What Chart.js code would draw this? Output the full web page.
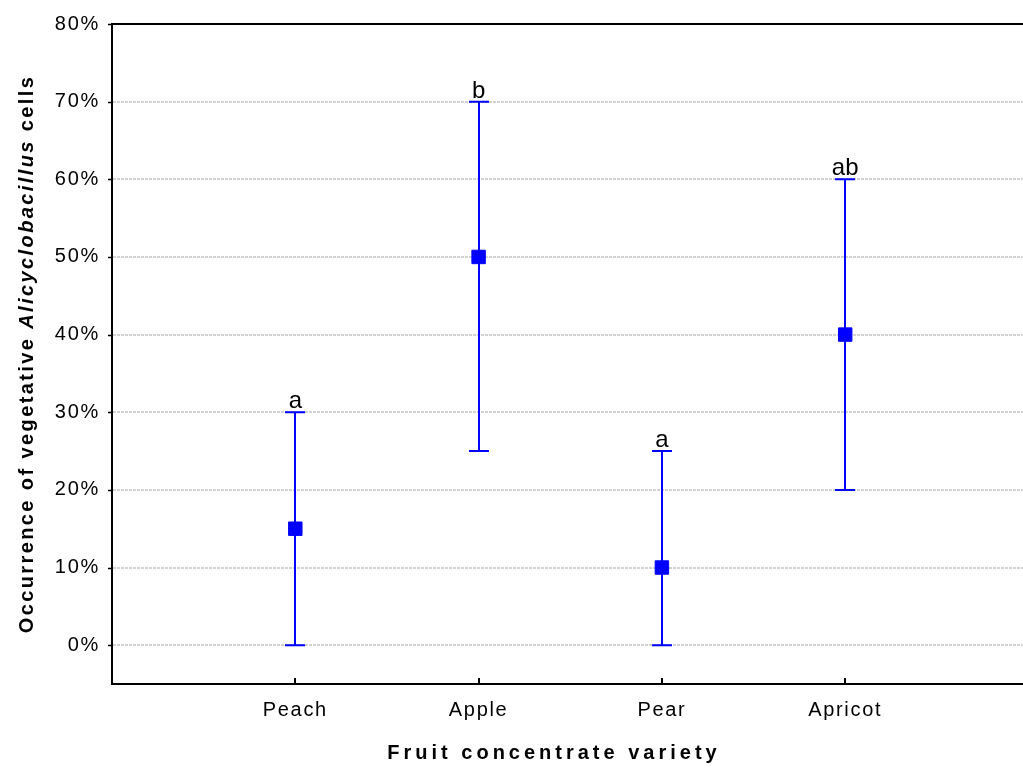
<!DOCTYPE html>
<html>
<head>
<meta charset="utf-8">
<script src="https://cdn.jsdelivr.net/npm/chart.js@4.4.1/dist/chart.umd.min.js"></script>
<style>
html,body{margin:0;padding:0;background:#fff;}
canvas{display:block;}
</style>
</head>
<body>
<canvas id="c" width="1023" height="771"></canvas>
<script>
const categories = ['Peach', 'Apple', 'Pear', 'Apricot'];
const means = [15, 50, 10, 40];
const lower = [0, 25, 0, 20];
const upper = [30, 70, 25, 60];
const letters = ['a', 'b', 'a', 'ab'];
const yTicks = [0, 10, 20, 30, 40, 50, 60, 70, 80];
const xTitle = 'Fruit concentrate variety';
const yTitleParts = [
  {text: 'Occurrence of vegetative ', italic: false},
  {text: 'Alicyclobacillus', italic: true},
  {text: ' cells', italic: false}
];

const FONT = "'Liberation Sans', Arial, sans-serif";
const BLUE = '#0000ff';

const points = categories.map((c, i) => ({x: i + 1, y: means[i]}));

const overlay = {
  id: 'overlay',
  beforeDraw(chart) {
    chart.ctx.letterSpacing = '1.7px';
  },
  beforeDatasetsDraw(chart) {
    const {ctx, scales: {x, y}} = chart;
    ctx.save();
    ctx.strokeStyle = BLUE;
    ctx.lineWidth = 2;
    categories.forEach((c, i) => {
      const px = Math.round(x.getPixelForValue(i + 1));
      const yl = y.getPixelForValue(lower[i]);
      const yu = y.getPixelForValue(upper[i]);
      ctx.beginPath();
      ctx.moveTo(px, yl); ctx.lineTo(px, yu);
      ctx.moveTo(px - 10, yl); ctx.lineTo(px + 10, yl);
      ctx.moveTo(px - 10, yu); ctx.lineTo(px + 10, yu);
      ctx.stroke();
    });
    ctx.restore();
  },
  afterDraw(chart) {
    const {ctx, chartArea: a, scales: {x, y}} = chart;
    ctx.save();
    ctx.strokeStyle = '#000';
    ctx.lineWidth = 2;
    ctx.beginPath();
    ctx.moveTo(a.left - 1, a.top); ctx.lineTo(a.right, a.top);
    ctx.stroke();
    ctx.beginPath();
    yTicks.forEach(v => {
      const py = Math.round(y.getPixelForValue(v)) + 0.5;
      ctx.moveTo(a.left - 4, py); ctx.lineTo(a.left, py);
    });
    ctx.lineWidth = 1.5;
    ctx.stroke();
    ctx.beginPath();
    categories.forEach((c, i) => {
      const px = Math.round(x.getPixelForValue(i + 1));
      ctx.moveTo(px, a.bottom); ctx.lineTo(px, a.bottom - 6);
    });
    ctx.lineWidth = 2;
    ctx.stroke();

    ctx.fillStyle = '#000';
    ctx.font = '24px ' + FONT;
    ctx.letterSpacing = '0px';
    ctx.textAlign = 'center';
    ctx.textBaseline = 'alphabetic';
    categories.forEach((c, i) => {
      const px = x.getPixelForValue(i + 1);
      const py = y.getPixelForValue(upper[i]);
      ctx.fillText(letters[i], px, py - 4);
    });

    ctx.font = 'bold 20px ' + FONT;
    ctx.letterSpacing = '4px';
    ctx.textAlign = 'center';
    ctx.textBaseline = 'middle';
    ctx.fillText(xTitle, 554, 753);

    ctx.letterSpacing = '2.4px';
    ctx.textAlign = 'left';
    const fonts = yTitleParts.map(p => (p.italic ? 'italic bold 20px ' : 'bold 20px ') + FONT);
    let total = 0;
    const widths = yTitleParts.map((p, i) => { ctx.font = fonts[i]; const w = ctx.measureText(p.text).width; total += w; return w; });
    ctx.translate(27, (a.top + a.bottom) / 2);
    ctx.rotate(-Math.PI / 2);
    let cx = -total / 2;
    yTitleParts.forEach((p, i) => {
      ctx.font = fonts[i];
      ctx.fillText(p.text, cx, 0);
      cx += widths[i];
    });
    ctx.restore();
  }
};

new Chart(document.getElementById('c'), {
  type: 'scatter',
  data: {
    datasets: [{
      data: points,
      pointStyle: 'rect',
      pointRadius: 9.5,
      pointHoverRadius: 9.5,
      backgroundColor: BLUE,
      borderColor: BLUE,
      borderWidth: 1
    }]
  },
  options: {
    responsive: false,
    animation: false,
    events: [],
    layout: {autoPadding: false, padding: {top: 22, right: 0, left: 0, bottom: 0}},
    plugins: {legend: {display: false}, tooltip: {enabled: false}},
    scales: {
      x: {
        type: 'linear', min: 0, max: 4.97,
        afterBuildTicks(s) { s.ticks = categories.map((c, i) => ({value: i + 1})); },
        afterFit(s) { s.height = 87; s.paddingLeft = 0; s.paddingRight = 0; },
        grid: {display: false, drawTicks: false},
        border: {display: true, color: '#000', width: 2},
        ticks: {
          padding: 14,
          color: '#000',
          font: {family: FONT, size: 20},
          maxRotation: 0,
          callback: v => categories[v - 1] || ''
        }
      },
      y: {
        type: 'linear', min: -5, max: 80,
        afterBuildTicks(s) { s.ticks = yTicks.map(v => ({value: v})); },
        afterFit(s) { s.width = 112; s.paddingLeft = 0; s.paddingRight = 0; },
        grid: {color: '#d2d2d2', lineWidth: 2, drawTicks: false},
        border: {display: true, color: '#000', width: 2, dash: [3, 1]},
        ticks: {
          padding: 12,
          color: '#000',
          font: {family: FONT, size: 20},
          callback: v => v + '%'
        }
      }
    }
  },
  plugins: [overlay]
});
</script>
</body>
</html>
